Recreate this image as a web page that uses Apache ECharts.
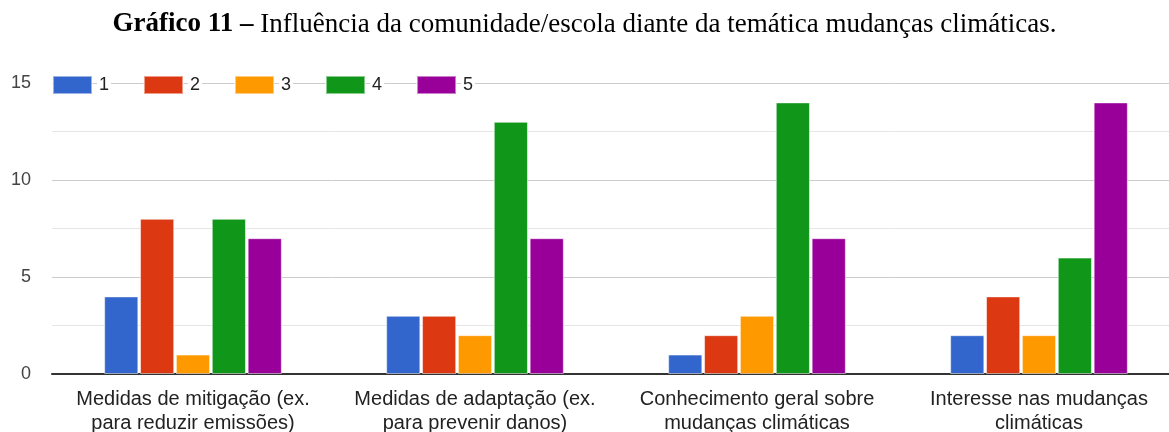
<!DOCTYPE html>
<html>
<head>
<meta charset="utf-8">
<script src="https://cdn.jsdelivr.net/npm/echarts@6/dist/echarts.min.js"></script>
<style>
  html, body { margin: 0; padding: 0; background: #fff; }
  #main { width: 1169px; height: 432px; }
</style>
</head>
<body>
<div id="main"></div>
<script>
// dados
var categorias = [
    'Medidas de mitigação (ex.\npara reduzir emissões)',
    'Medidas de adaptação (ex.\npara prevenir danos)',
    'Conhecimento geral sobre\nmudanças climáticas',
    'Interesse nas mudanças\nclimáticas'
];
var nomes = ['1', '2', '3', '4', '5'];
var serie1 = [4, 3, 1, 2];
var serie2 = [8, 3, 2, 4];
var serie3 = [1, 2, 3, 2];
var serie4 = [8, 13, 14, 6];
var serie5 = [7, 7, 7, 14];
var cores = ['#3366cc', '#dc3912', '#ff9900', '#109618', '#990099'];

var chart = echarts.init(document.getElementById('main'));
var valores = [serie1, serie2, serie3, serie4, serie5];

var option = {
    animation: false,
    color: cores,
    title: {
        text: '{b|Gráfico 11 –} Influência da comunidade/escola diante da temática mudanças climáticas.',
        left: 'center',
        top: 6,
        textStyle: {
            fontFamily: 'Liberation Serif',
            fontSize: 27,
            fontWeight: 'normal',
            color: '#000',
            rich: {
                b: { fontFamily: 'Liberation Serif', fontSize: 27, fontWeight: 'bold', color: '#000' }
            }
        }
    },
    legend: {
        data: nomes,
        left: 47,
        top: 70,
        icon: 'rect',
        itemWidth: 39,
        itemHeight: 18,
        itemGap: 32,
        textStyle: {
            fontFamily: 'Liberation Sans',
            fontSize: 18,
            color: '#222',
            backgroundColor: '#fff',
            padding: [0, 2]
        }
    },
    grid: {
        left: 52,
        top: 83,
        width: 1128,
        bottom: 58,
        containLabel: false,
        outerBoundsMode: 'none'
    },
    xAxis: {
        type: 'category',
        data: categorias,
        axisTick: { show: false },
        axisLine: { lineStyle: { color: '#333', width: 2 } },
        axisLabel: {
            fontFamily: 'Liberation Sans',
            fontSize: 20,
            color: '#222',
            lineHeight: 24,
            margin: 13,
            interval: 0
        }
    },
    yAxis: {
        type: 'value',
        min: 0,
        max: 15,
        interval: 5,
        axisLabel: {
            fontFamily: 'Liberation Sans',
            fontSize: 18,
            color: '#444',
            margin: 21
        },
        splitLine: { lineStyle: { color: '#ccc' } },
        minorTick: { show: false, splitNumber: 2 },
        minorSplitLine: { show: true, lineStyle: { color: '#e6e6e6' } }
    },
    series: nomes.map(function (n, i) {
        return {
            name: n,
            type: 'bar',
            data: valores[i],
            barGap: '5%',
            barCategoryGap: '37%',
            itemStyle: { borderColor: 'rgba(255,255,255,0.5)', borderWidth: 1 }
        };
    })
};

chart.setOption(option);
</script>
</body>
</html>
